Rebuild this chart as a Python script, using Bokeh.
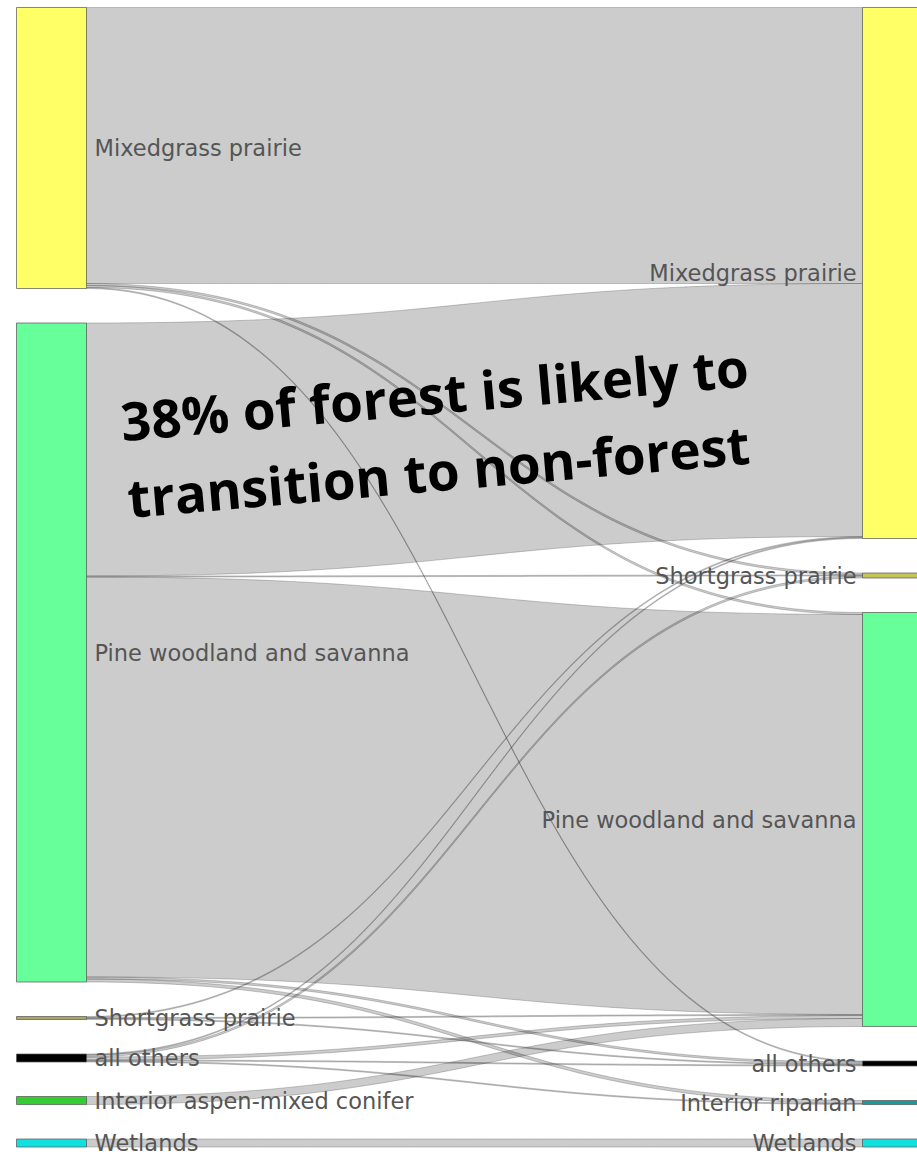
import numpy as np
from bokeh.plotting import figure
from bokeh.models import ColumnDataSource, Range1d
from bokeh.core.properties import value
from bokeh.embed import file_html
from bokeh.resources import INLINE

# ---------------- data ----------------
left_nodes = ["Mixedgrass prairie", "Pine woodland and savanna", "Shortgrass prairie",
              "all others", "Interior aspen-mixed conifer", "Wetlands"]
left_colors = ["#ffff66", "#66ff99", "#a8a864", "#000000", "#33cc33", "#11e0e0"]

right_nodes = ["Mixedgrass prairie", "Shortgrass prairie", "Pine woodland and savanna",
               "all others", "Interior riparian", "Wetlands"]
right_colors = ["#ffff66", "#c4c45a", "#66ff99", "#000000", "#1a9a9a", "#11e0e0"]

# flows: source index (left), target index (right), value
link_source = [0, 0, 0, 0,
               1, 1, 1, 1, 1,
               2, 2, 2,
               3, 3, 3, 3, 3,
               4,
               5]
link_target = [0, 1, 2, 3,
               0, 1, 2, 3, 4,
               0, 2, 3,
               0, 1, 2, 3, 4,
               2,
               5]
link_value = [276, 2, 2, 1,
              253, 1, 400, 2, 3,
              1, 1, 1,
              1, 2, 3, 1, 1,
              8,
              8]

annotation_lines = ["38% of forest is likely to", "transition to non-forest"]

# ---------------- layout (pixel-like units) ----------------
W, H = 917, 1156
TOP = 7.0
PAD_LEFT = 34.5
PAD_RIGHT = 34.5
KY = 1.0
LX0, LX1 = 16.0, 86.0
RX0, RX1 = 862.0, 932.0

def column_layout(n, totals, pad):
    pos = []
    y = TOP
    for i in range(n):
        y0 = y
        y1 = y + totals[i] * KY
        pos.append((y0, y1))
        y = y1 + pad
    return pos

ltot = [0.0] * len(left_nodes)
rtot = [0.0] * len(right_nodes)
for s, t, v in zip(link_source, link_target, link_value):
    ltot[s] += v
    rtot[t] += v
lpos = column_layout(len(left_nodes), ltot, PAD_LEFT)
rpos = column_layout(len(right_nodes), rtot, PAD_RIGHT)

# link offsets inside nodes
order_src = sorted(range(len(link_value)), key=lambda k: (link_source[k], link_target[k]))
order_tgt = sorted(range(len(link_value)), key=lambda k: (link_target[k], link_source[k]))
s_off = {}
cur = [q[0] for q in lpos]
for k in order_src:
    s = link_source[k]
    s_off[k] = (cur[s], cur[s] + link_value[k] * KY)
    cur[s] += link_value[k] * KY
t_off = {}
cur = [q[0] for q in rpos]
for k in order_tgt:
    t = link_target[k]
    t_off[k] = (cur[t], cur[t] + link_value[k] * KY)
    cur[t] += link_value[k] * KY

tt = np.linspace(0, 1, 80)
def bez(x0, x1, y0, y1):
    xm = (x0 + x1) / 2
    a, b, c, d = (1 - tt) ** 3, 3 * (1 - tt) ** 2 * tt, 3 * (1 - tt) * tt ** 2, tt ** 3
    xs = a * x0 + b * xm + c * xm + d * x1
    ys = a * y0 + b * y0 + c * y1 + d * y1
    return xs, ys

link_xs, link_ys = [], []
for k in range(len(link_value)):
    sy0, sy1 = s_off[k]
    ty0, ty1 = t_off[k]
    xt, yt = bez(LX1, RX0, sy0, ty0)
    xb, yb = bez(RX0, LX1, ty1, sy1)
    link_xs.append(list(xt) + list(xb))
    link_ys.append(list(yt) + list(yb))

# ---------------- figure ----------------
p = figure(width=W, height=H, x_range=Range1d(0, W), y_range=Range1d(H, 0),
           output_backend="svg", toolbar_location=None, min_border=0)
p.axis.visible = False
p.grid.visible = False
p.outline_line_color = None
p.background_fill_color = "white"
p.border_fill_color = "white"

p.patches(xs=link_xs, ys=link_ys, fill_color="black", fill_alpha=0.2,
          line_color="#444444", line_alpha=0.42, line_width=0.7)

nsrc = ColumnDataSource(dict(
    left=[LX0] * len(left_nodes) + [RX0] * len(right_nodes),
    right=[LX1] * len(left_nodes) + [RX1] * len(right_nodes),
    top=[q[0] for q in lpos] + [q[0] for q in rpos],
    bottom=[q[1] for q in lpos] + [q[1] for q in rpos],
    color=left_colors + right_colors,
))
p.quad(left="left", right="right", top="top", bottom="bottom", source=nsrc,
       fill_color="color", line_color="#555555", line_alpha=0.7, line_width=1)

# node labels
p.text(x=[LX1 + 8] * len(left_nodes), y=[(a + b) / 2 for a, b in lpos], text=left_nodes,
       text_align="left", text_baseline="middle", text_font=value("DejaVu Sans"),
       text_font_size="22.5px", text_color="#555555")
p.text(x=[RX0 - 6] * len(right_nodes), y=[(a + b) / 2 for a, b in rpos], text=right_nodes,
       text_align="right", text_baseline="middle", text_font=value("DejaVu Sans"),
       text_font_size="22.5px", text_color="#555555")

# annotation
p.text(x=[434, 438], y=[393, 470], text=annotation_lines, angle=5, angle_units="deg",
       text_align="center", text_baseline="middle", text_font=value("Open Sans"),
       text_font_style="bold", text_font_size="53px", text_color="black")

open("out.html", "w").write(file_html(p, INLINE))
